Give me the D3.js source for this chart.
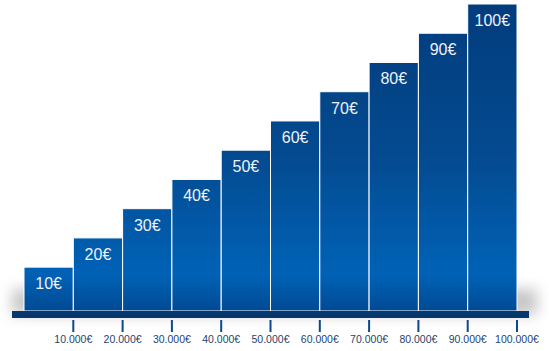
<!DOCTYPE html>
<html>
<head>
<meta charset="utf-8">
<script src="https://cdn.jsdelivr.net/npm/d3@7"></script>
<style>
  body { margin: 0; background: #ffffff; }
  svg { display: block; }
</style>
</head>
<body>
<script>
// chart data
var categories = ["10€", "20€", "30€", "40€", "50€", "60€", "70€", "80€", "90€", "100€"];
var values = [10, 20, 30, 40, 50, 60, 70, 80, 90, 100];
var tickLabels = ["10.000€", "20.000€", "30.000€", "40.000€", "50.000€",
                  "60.000€", "70.000€", "80.000€", "90.000€", "100.000€"];

function drawChart(){

  var wx = 549,
      hy = 351,
      base = 311;

  var svg = d3.select("body")
      .append("svg")
      .attr("width", wx)
      .attr("height", hy);

  var defs = svg.append("defs");

  // vertical gradient across the whole plot
  var grad = defs.append("linearGradient")
      .attr("id", "barFill")
      .attr("gradientUnits", "userSpaceOnUse")
      .attr("x1", 0).attr("y1", 0)
      .attr("x2", 0).attr("y2", base);
  grad.append("stop").attr("offset", "0%").attr("stop-color", "#023c7c");
  grad.append("stop").attr("offset", "50%").attr("stop-color", "#044a90");
  grad.append("stop").attr("offset", "88%").attr("stop-color", "#0062b6");
  grad.append("stop").attr("offset", "100%").attr("stop-color", "#014a94");

  var blur = defs.append("filter")
      .attr("id", "soft")
      .attr("x", "-20%").attr("y", "-50%")
      .attr("width", "140%").attr("height", "200%");
  blur.append("feGaussianBlur").attr("stdDeviation", 7);

  var x = d3.scaleBand()
      .domain(categories)
      .range([24, 517])
      .padding(0);

  var y = d3.scaleLinear()
      .domain([-5, 100])
      .range([base, 4]);

  // soft shadow behind the bars
  svg.append("rect")
      .attr("x", 12)
      .attr("y", base - 22)
      .attr("width", 525)
      .attr("height", 26)
      .attr("fill", "#9a9a9a")
      .attr("opacity", 0.55)
      .attr("filter", "url(#soft)");

  // bars
  svg.selectAll("rect.bar")
      .data(values)
      .enter()
      .append("rect")
      .attr("class", "bar")
      .attr("x", function(d, i){ return x(categories[i]); })
      .attr("y", function(d){ return y(d); })
      .attr("width", x.bandwidth())
      .attr("height", function(d){ return base - y(d); })
      .attr("fill", "url(#barFill)")
      .attr("stroke", "#ffffff")
      .attr("stroke-width", 1);

  // bar labels
  svg.selectAll("text.lbl")
      .data(values)
      .enter()
      .append("text")
      .attr("class", "lbl")
      .attr("x", function(d, i){ return x(categories[i]) + x.bandwidth() / 2; })
      .attr("y", function(d){ return y(d) + 22; })
      .attr("text-anchor", "middle")
      .style("font-family", "Arial, 'Liberation Sans', sans-serif")
      .style("font-size", "16px")
      .style("fill", "#eef2f8")
      .text(function(d, i){ return categories[i]; });

  // base strip
  svg.append("rect")
      .attr("x", 12)
      .attr("y", base)
      .attr("width", 517)
      .attr("height", 7)
      .attr("fill", "#08376f");

  // ticks at the right edge of each bar
  svg.selectAll("rect.tick")
      .data(tickLabels)
      .enter()
      .append("rect")
      .attr("class", "tick")
      .attr("x", function(d, i){ return x(categories[i]) + x.bandwidth() - 1; })
      .attr("y", 320)
      .attr("width", 2)
      .attr("height", 12)
      .attr("fill", "#0b4a8c");

  svg.selectAll("text.tl")
      .data(tickLabels)
      .enter()
      .append("text")
      .attr("class", "tl")
      .attr("x", function(d, i){ return x(categories[i]) + x.bandwidth(); })
      .attr("y", 343)
      .attr("text-anchor", "middle")
      .style("font-family", "Arial, 'Liberation Sans', sans-serif")
      .style("font-size", "10.5px")
      .style("fill", "#1f3f6e")
      .text(function(d){ return d; });
}
drawChart();
</script>
</body>
</html>
